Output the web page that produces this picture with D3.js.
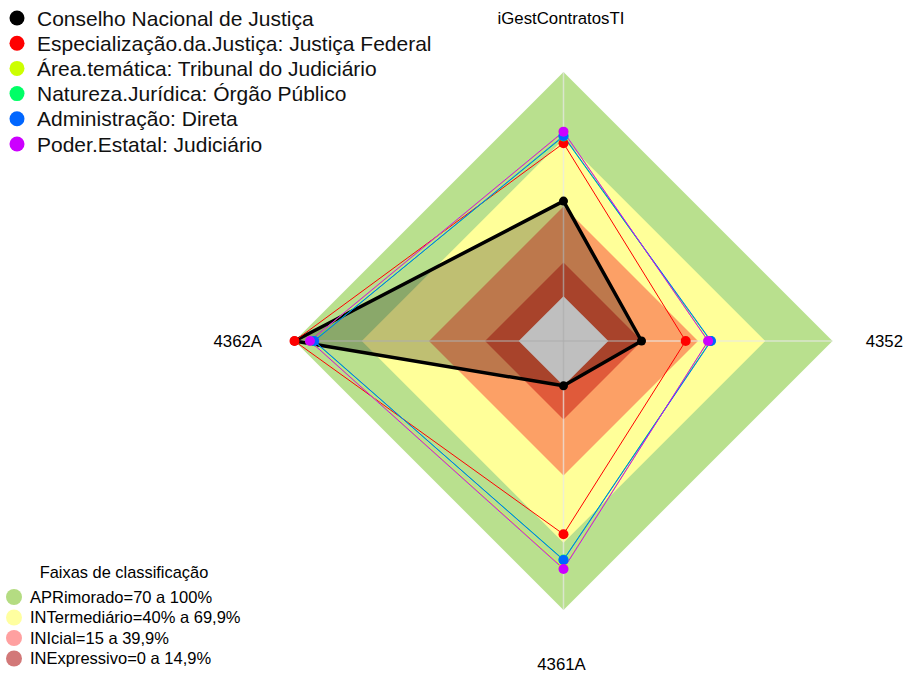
<!DOCTYPE html>
<html><head><meta charset="utf-8">
<script src="https://cdn.jsdelivr.net/npm/d3@7"></script>
<style>body{margin:0;background:#fff}svg{display:block;font-family:"Liberation Sans",Arial,sans-serif}</style>
</head><body><svg id="c" width="905" height="675"></svg>
<script>
// Axes (counter-clockwise from top)
const categories = ["iGestContratosTI", "4362A", "4361A", "4352"];
const seriesNames = ["Conselho Nacional de Justiça","Especialização.da.Justiça: Justiça Federal","Área.temática: Tribunal do Judiciário","Natureza.Jurídica: Órgão Público","Administração: Direta","Poder.Estatal: Judiciário"];
const seriesColors = ["#000000","#FF0000","#CCFF00","#00FF66","#0066FF","#CC00FF"];
const cnj = [42.4, 100, 0, 14.8];
const especializacao = [68.2, 100, 66.2, 34.5];
const areaTematica = [73.2, 93, 81.3, 44.6];
const natureza = [71.2, 91.4, 77.5, 45.6];
const administracao = [71.5, 91.2, 77.7, 45.8];
const poderEstatal = [73.4, 93.1, 81.7, 44.5];
const seriesValues = [cnj, especializacao, areaTematica, natureza, administracao, poderEstatal];
const bandNames = ["APRimorado=70 a 100%","INTermediário=40% a 69,9%","INIcial=15 a 39,9%","INExpressivo=0 a 14,9%"];
const bandLimits = [100, 70, 40, 15];
const bandFill = ["#B9E08E","#FFFF99","#FCA066","#E05A3A"];
const bandLegendColors = ["#B4DC82","#FFFFA0","#FFA0A0","#D27878"];

const svg = d3.select("#c");
const cx = 563.5, cy = 341, R = 269;
// fmsb-style radius: inner hole of 1/6 of radius
const rScale = d3.scaleLinear().domain([0,100]).range([R/6, R]);
const angle = i => -Math.PI/2 - i*2*Math.PI/categories.length;
const pt = (v,i) => [cx + rScale(v)*Math.cos(angle(i)), cy + rScale(v)*Math.sin(angle(i))];
const line = d3.line().curve(d3.curveLinearClosed);

// bands
bandLimits.forEach((b,k)=>{
  svg.append("path").attr("d", line(categories.map((c,i)=>pt(b,i)))).attr("fill", bandFill[k]);
});
svg.append("path").attr("d", line(categories.map((c,i)=>pt(0,i)))).attr("fill", "#ffffff");

// spokes
categories.forEach((c,i)=>{
  const p = pt(100,i);
  svg.append("line").attr("x1",cx).attr("y1",cy).attr("x2",p[0]).attr("y2",p[1])
    .attr("stroke","#E8E8E8").attr("stroke-opacity",0.7).attr("stroke-width",1.5);
});

// series
seriesValues.forEach((vals,s)=>{
  const pts = vals.map((v,i)=>pt(v,i));
  svg.append("path").attr("d", line(pts))
    .attr("fill", s===0 ? "rgba(0,0,0,0.25)" : "none")
    .attr("stroke", seriesColors[s]).attr("stroke-width", s===0 ? 3.5 : 1)
    .attr("stroke-linejoin","round");
});
seriesValues.forEach((vals,s)=>{
  vals.forEach((v,i)=>{
    const p = pt(v,i);
    svg.append("circle").attr("cx",p[0]).attr("cy",p[1]).attr("r", s===0?4.5:5).attr("fill", seriesColors[s]);
  });
});

// axis labels
const labelPos = [
  {x:561, y:18, a:"middle"},
  {x:262, y:341, a:"end"},
  {x:561.5, y:664, a:"middle"},
  {x:903, y:341, a:"end"}
];
categories.forEach((c,i)=>{
  svg.append("text").attr("x",labelPos[i].x).attr("y",labelPos[i].y).attr("dy","0.35em")
    .attr("text-anchor",labelPos[i].a).attr("font-size",16.8).attr("fill","#000").text(c);
});

// top legend
seriesNames.forEach((n,s)=>{
  const y = 18 + s*25.2;
  svg.append("circle").attr("cx",17).attr("cy",y).attr("r",7.5).attr("fill",seriesColors[s]);
  svg.append("text").attr("x",37).attr("y",y).attr("dy","0.36em").attr("font-size",21).attr("fill","#111").text(n);
});

// bottom legend
svg.append("text").attr("x",124).attr("y",572).attr("dy","0.35em").attr("text-anchor","middle").attr("font-size",16.4).text("Faixas de classificação");
bandNames.forEach((n,k)=>{
  const y = 597 + k*20.5;
  svg.append("circle").attr("cx",14).attr("cy",y).attr("r",8).attr("fill",bandLegendColors[k]);
  svg.append("text").attr("x",30).attr("y",y).attr("dy","0.36em").attr("font-size",16.5).text(n);
});
</script></body></html>
